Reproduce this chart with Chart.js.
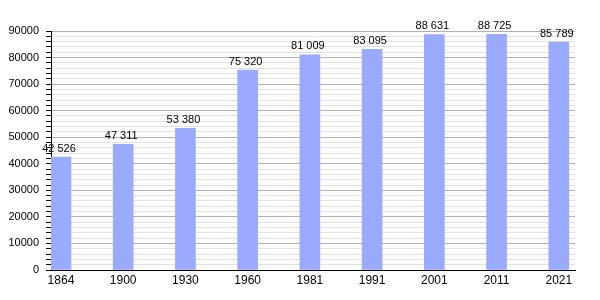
<!DOCTYPE html>
<html><head><meta charset="utf-8">
<script src="https://cdn.jsdelivr.net/npm/chart.js@4/dist/chart.umd.min.js"></script>
<style>html,body{margin:0;padding:0;background:#fff}#w{width:600px;height:300px}</style>
</head><body><div id="w"><canvas id="c"></canvas></div>
<script>
const categories = ["1864","1900","1930","1960","1981","1991","2001","2011","2021"];
const population = [42526, 47311, 53380, 75320, 81009, 83095, 88631, 88725, 85789];
const yTicksMajor = [0,10000,20000,30000,40000,50000,60000,70000,80000,90000];

const fmt = v => String(v).replace(/\B(?=(\d{3})+(?!\d))/g, ' ');
const FONT = '"Liberation Sans", Arial, sans-serif';

const labelPlugin = {
  id: 'vals',
  afterDatasetsDraw(chart) {
    const ctx = chart.ctx;
    const meta = chart.getDatasetMeta(0);
    ctx.save();
    ctx.font = '11px ' + FONT;
    ctx.fillStyle = '#000';
    ctx.textAlign = 'center';
    ctx.textBaseline = 'bottom';
    meta.data.forEach((el, i) => {
      ctx.fillText(fmt(population[i]), el.x - 2, el.y - 3);
    });
    ctx.restore();
  }
};

new Chart(document.getElementById('c'), {
  type: 'bar',
  data: {
    datasets: [{
      data: population.map((v, i) => ({x: i, y: v})),
      backgroundColor: '#99AAFF',
      borderWidth: 0,
      barThickness: 20
    }]
  },
  options: {
    responsive: true,
    maintainAspectRatio: false,
    animation: false,
    layout: {padding: {top: 31, right: 25, left: 0, bottom: 0}},
    plugins: {legend: {display: false}, tooltip: {enabled: false}},
    scales: {
      x: {
        type: 'linear',
        offset: false,
        min: -0.16,
        max: 8.26,
        afterBuildTicks(s) { s.ticks = categories.map((c, i) => ({value: i})); },
        afterFit(s) { s.height = 30; },
        ticks: {
          callback: v => categories[v] ?? '',
          color: '#000',
          font: {family: FONT, size: 12},
          maxRotation: 0,
          autoSkip: false,
          padding: 3
        },
        grid: {display: false, drawTicks: false},
        border: {color: '#000', width: 1}
      },
      y: {
        min: 0,
        max: 90000,
        afterBuildTicks(s) {
          const t = [];
          for (let v = 0; v <= 90000; v += 2000) t.push({value: v});
          s.ticks = t;
        },
        afterFit(s) { s.width = 51; },
        ticks: {
          callback: v => yTicksMajor.includes(v) ? String(v) : '',
          color: '#000',
          font: {family: FONT, size: 11},
          autoSkip: false,
          padding: 7
        },
        grid: {
          color: c => (c.tick && c.tick.value % 10000 === 0) ? '#b0b0b0' : '#e2e2e2',
          tickColor: '#000',
          tickLength: 5,
          lineWidth: 1
        },
        border: {color: '#000', width: 1}
      }
    }
  },
  plugins: [labelPlugin]
});
</script>
</body></html>
